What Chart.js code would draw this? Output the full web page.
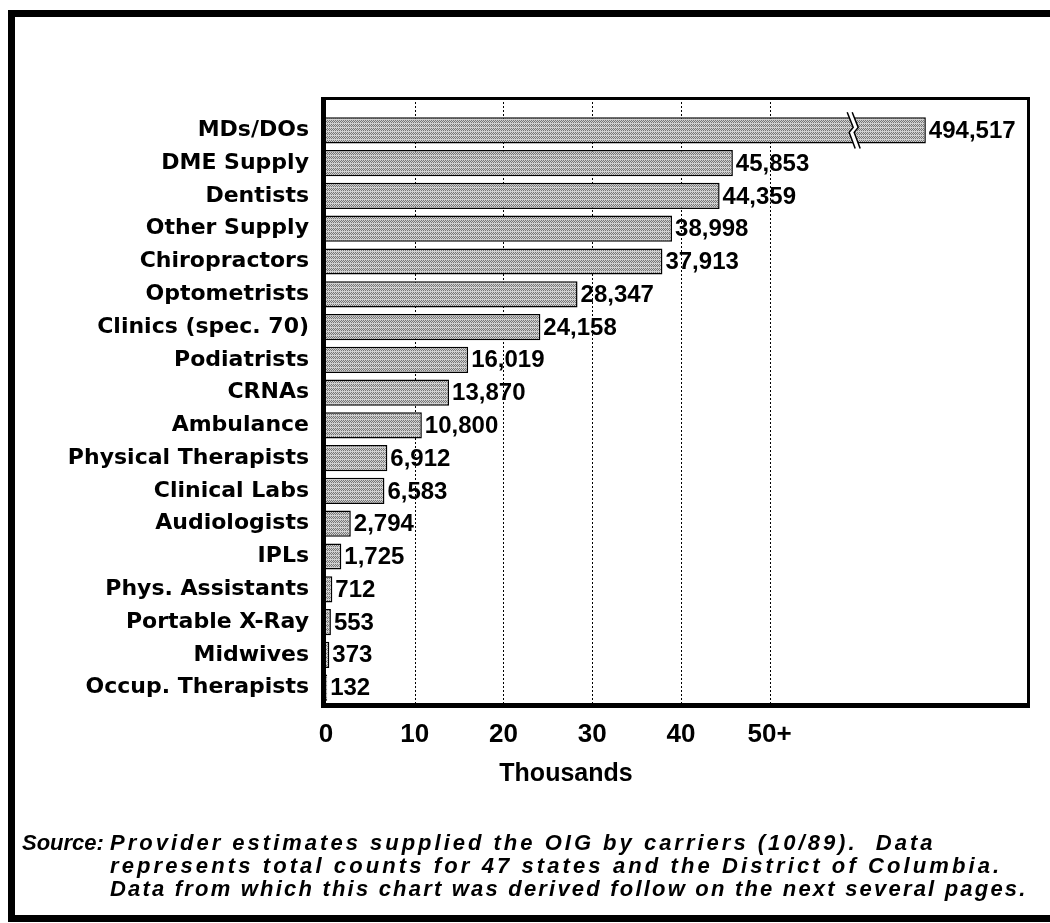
<!DOCTYPE html>
<html>
<head>
<meta charset="utf-8">
<script src="https://cdn.jsdelivr.net/npm/chart.js@4/dist/chart.umd.min.js"></script>
<style>
  html, body { margin:0; padding:0; background:#fff; width:1050px; height:923px; overflow:hidden; }
  #frame { position:absolute; left:8px; top:10px; width:1100px; height:912px; box-sizing:border-box; border:7px solid #000; }
  #c { position:absolute; left:0; top:0; }
  #src { position:absolute; left:22px; top:831px; font:italic bold 22px "Liberation Sans", Arial, sans-serif; letter-spacing:2.2px; line-height:23px; color:#000; white-space:pre; }
  #src .lab { display:inline-block; width:88px; letter-spacing:0px; }
  #src .l1 { letter-spacing:3.0px; }
  #src .l2 { padding-left:88px; letter-spacing:3.1px; }
  #src .l3 { padding-left:88px; letter-spacing:2.2px; }
</style>
</head>
<body>
<div id="frame"></div>
<canvas id="c" width="1050" height="923"></canvas>
<div id="src"><div><span class="lab">Source:</span><span class="l1">Provider estimates supplied the OIG by carriers (10/89).  Data</span></div><div class="l2">represents total counts for 47 states and the District of Columbia.</div><div class="l3">Data from which this chart was derived follow on the next several pages.</div></div>
<script>
// ---- data ----
const categories = ["MDs/DOs","DME Supply","Dentists","Other Supply","Chiropractors","Optometrists","Clinics (spec. 70)","Podiatrists","CRNAs","Ambulance","Physical Therapists","Clinical Labs","Audiologists","IPLs","Phys. Assistants","Portable X-Ray","Midwives","Occup. Therapists"];
const counts = [494517,45853,44359,38998,37913,28347,24158,16019,13870,10800,6912,6583,2794,1725,712,553,373,132];
const tickValues = [0,10,20,30,40,50];
const tickLabels = ["0","10","20","30","40","50+"];
const axisTitle = "Thousands";

// broken-axis settings (thousands)
const scaleOpenAt = 50;      // "50+" : values above are drawn with a break
const breakAt = 59.3;        // where the break mark sits
const brokenBarEnd = 67.6;   // where a broken bar is drawn to end
const plotted = counts.map(v => (v/1000 > scaleOpenAt ? brokenBarEnd : v/1000));

// ---- fill pattern ----
function makePattern(){
  const t = document.createElement('canvas'); t.width = 4; t.height = 4;
  const g = t.getContext('2d');
  for (let y=0;y<4;y++) for (let x=0;x<4;x++){
    g.fillStyle = (y===3) ? '#d0d0d0' : (((x+y)%2) ? '#767676' : '#d0d0d0');
    g.fillRect(x,y,1,1);
  }
  return document.getElementById('c').getContext('2d').createPattern(t,'repeat');
}

const deco = {
  id:'deco',
  beforeDatasetsDraw(chart){
    const {ctx, chartArea:a, scales:{x}} = chart;
    const top = a.top - 16;
    ctx.save();
    ctx.strokeStyle = '#000'; ctx.lineWidth = 1; ctx.setLineDash([2,2]);
    tickValues.forEach(v => {
      if (v === 0) return;
      const px = Math.round(x.getPixelForValue(v)) + 0.5;
      ctx.beginPath(); ctx.moveTo(px, top); ctx.lineTo(px, a.bottom); ctx.stroke();
    });
    ctx.restore();
  },
  afterDatasetsDraw(chart){
    const {ctx, chartArea:a, scales:{x}} = chart;
    const top = a.top - 16;
    ctx.save();
    // frame
    ctx.fillStyle = '#000';
    ctx.fillRect(a.left - 5, top - 1, a.right - a.left + 8, 3);      // top
    ctx.fillRect(a.right, top - 1, 3, a.bottom - top + 3);            // right
    ctx.fillRect(a.left - 5, top - 1, 5, a.bottom - top + 4);         // left axis
    ctx.fillRect(a.left - 5, a.bottom - 1, a.right - a.left + 8, 5);  // bottom axis
    // value labels + breaks
    const meta = chart.getDatasetMeta(0);
    ctx.font = 'bold 24px "Liberation Sans", Arial, sans-serif';
    ctx.textBaseline = 'middle'; ctx.textAlign = 'left'; ctx.fillStyle = '#000';
    meta.data.forEach((bar, i) => {
      ctx.fillText(counts[i].toLocaleString('en-US'), bar.x + 3, bar.y + 1);
      if (counts[i]/1000 > scaleOpenAt) {
        const cx = x.getPixelForValue(breakAt);
        const h = bar.height;
        const t = bar.y - h/2 - 5, b = bar.y + h/2 + 5;
        const L = [[cx-5,t],[cx+1,bar.y-3],[cx-3,bar.y+2],[cx+3,b]];
        const R = L.map(p => [p[0]+5, p[1]]);
        ctx.beginPath();
        L.forEach((p,k)=> k ? ctx.lineTo(p[0],p[1]) : ctx.moveTo(p[0],p[1]));
        for (let k=R.length-1;k>=0;k--) ctx.lineTo(R[k][0],R[k][1]);
        ctx.closePath(); ctx.fillStyle = '#fff'; ctx.fill();
        ctx.strokeStyle = '#000'; ctx.lineWidth = 1.5;
        [L,R].forEach(P => { ctx.beginPath(); P.forEach((p,k)=> k ? ctx.lineTo(p[0],p[1]) : ctx.moveTo(p[0],p[1])); ctx.stroke(); });
        ctx.fillStyle = '#000';
      }
    });
    ctx.restore();
  },
  afterDraw(chart){
    const {ctx} = chart;
    ctx.save();
    ctx.font = 'bold 25px "Liberation Sans", Arial, sans-serif';
    ctx.fillStyle = '#000'; ctx.textAlign = 'center'; ctx.textBaseline = 'middle';
    ctx.fillText(axisTitle, 566, 774);
    ctx.restore();
  }
};

new Chart(document.getElementById('c'), {
  type:'bar',
  data:{ labels: categories, datasets:[{ data: plotted, backgroundColor: makePattern(), borderColor:'#000', borderWidth:1.5, barPercentage:0.8, categoryPercentage:1.0 }]},
  options:{
    indexAxis:'y', responsive:false, animation:false, devicePixelRatio:1,
    layout:{ padding:{ top:114, right:23, bottom:0, left:0 } },
    plugins:{ legend:{display:false}, tooltip:{enabled:false} },
    scales:{
      x:{ type:'linear', min:0, max:79,
          grid:{display:false}, border:{display:false},
          afterBuildTicks: s => { s.ticks = tickValues.map(v => ({value:v})); },
          afterFit: s => { s.height = 219; },
          ticks:{ color:'#000', padding:7, maxRotation:0, autoSkip:false,
                  font:{ family:'"Liberation Sans", Arial, sans-serif', size:26, weight:'bold' },
                  callback: v => { const k = tickValues.indexOf(v); return k >= 0 ? tickLabels[k] : ''; } } },
      y:{ grid:{display:false}, border:{display:false},
          afterFit: s => { s.width = 326; },
          ticks:{ color:'#000', padding:9, autoSkip:false,
                  font:{ family:'"DejaVu Sans", sans-serif', size:22, weight:'bold' } } }
    }
  },
  plugins:[deco]
});
</script>
</body>
</html>
